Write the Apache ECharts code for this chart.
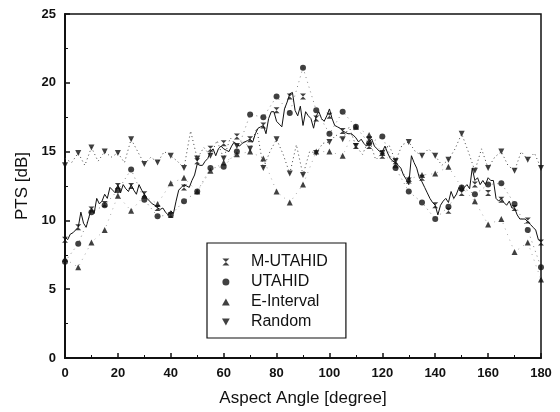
<!DOCTYPE html>
<html>
<head>
<meta charset="utf-8">
<script src="https://cdn.jsdelivr.net/npm/echarts@6/dist/echarts.min.js"></script>
<style>html,body{margin:0;padding:0;background:#fff;}#chart{width:560px;height:412px;}</style>
</head>
<body>
<div id="chart"></div>
<script>
// ---- Data ----
const lineAngles = [0,1,2,3,4,5,6,7,8,9,10,11,12,13,14,15,16,17,18,19,20,21,22,23,24,25,26,27,28,29,30,31,32,33,34,35,36,37,38,39,40,41,42,43,44,45,46,47,48,49,50,51,52,53,54,55,56,57,58,59,60,61,62,63,64,65,66,67,68,69,70,71,72,73,74,75,76,77,78,79,80,81,82,83,84,85,86,87,88,89,90,91,92,93,94,95,96,97,98,99,100,101,102,103,104,105,106,107,108,109,110,111,112,113,114,115,116,117,118,119,120,121,122,123,124,125,126,127,128,129,130,131,132,133,134,135,136,137,138,139,140,141,142,143,144,145,146,147,148,149,150,151,152,153,154,155,156,157,158,159,160,161,162,163,164,165,166,167,168,169,170,171,172,173,174,175,176,177,178,179,180];
const solidLine = [8.8,8.6,9.0,9.1,9.3,9.5,10.6,9.8,9.5,10.2,10.9,10.5,11.6,11.2,11.4,11.9,11.6,12.4,12.2,12.0,12.6,12.0,12.6,12.3,12.1,12.6,12.2,11.9,12.6,12.2,11.9,11.6,11.4,11.2,11.1,10.9,10.8,10.9,10.6,10.4,10.7,10.5,11.4,12.2,12.4,12.6,12.5,12.4,12.9,13.3,14.1,14.0,14.0,14.3,14.5,15.0,15.2,14.7,15.2,15.4,15.2,15.1,15.0,15.4,15.7,15.5,15.4,15.6,15.7,15.8,15.9,15.7,16.3,16.7,16.8,16.9,16.3,17.4,17.9,17.9,17.2,17.0,16.8,18.1,18.6,19.2,19.3,18.0,17.6,18.3,16.9,17.9,17.6,17.4,16.7,17.6,17.9,17.4,17.2,17.6,18.1,17.4,16.9,16.8,16.7,16.5,16.4,16.3,16.3,16.2,16.0,15.7,15.9,15.6,15.4,15.7,15.9,15.4,15.2,15.0,15.0,15.4,14.9,14.5,14.3,14.2,14.0,13.8,13.3,13.0,12.6,14.7,14.2,13.8,13.1,12.8,12.4,12.0,11.6,11.3,11.1,10.4,11.1,11.4,11.6,11.3,12.1,11.6,11.9,12.4,12.1,12.4,12.6,12.3,13.8,12.9,13.1,12.6,12.9,12.6,13.1,12.9,12.9,11.6,11.4,11.6,11.3,11.1,11.4,10.9,10.9,10.4,10.1,10.1,10.1,9.9,9.7,9.5,9.3,8.6,8.5];

const randLineAngles = [0,2.5,5,7.5,10,12.5,15,17.5,20,22.5,25,27.5,30,32.5,35,37.5,40,42.5,45,47.5,50,52.5,55,57.5,60,62.5,65,67.5,70,72.5,75,77.5,80,82.5,85,87.5,90,92.5,95,97.5,100,102.5,105,107.5,110,112.5,115,117.5,120,122.5,125,127.5,130,132.5,135,137.5,140,142.5,145,147.5,150,152.5,155,157.5,160,162.5,165,167.5,170,172.5,175,177.5,180];
const randLine = [14.5,14.2,14.9,14.0,15.3,14.3,15.0,14.6,14.9,14.2,15.9,15.0,14.1,14.6,14.2,15.0,14.7,14.3,13.8,16.5,14.5,15.3,14.7,15.8,14.5,16.0,15.4,15.8,15.2,16.7,13.8,15.0,15.9,14.8,13.4,15.5,13.3,15.0,14.9,15.6,15.7,16.2,15.9,16.8,15.4,14.8,15.9,14.4,14.9,15.5,14.3,15.5,15.7,15.0,14.7,15.2,14.7,14.0,14.4,15.2,16.3,15.0,13.6,15.2,13.8,14.6,15.0,14.0,13.6,15.0,14.4,14.9,13.8];

const markerAngles = [0,5,10,15,20,25,30,35,40,45,50,55,60,65,70,75,80,85,90,95,100,105,110,115,120,125,130,135,140,145,150,155,160,165,170,175,180];
const mUtahid   = [8.6,9.5,10.8,11.2,12.5,12.5,11.9,10.9,10.4,12.4,14.3,15.2,15.6,16.1,15.9,16.9,18.0,19.0,19.0,17.4,17.6,16.5,15.4,15.4,14.7,14.3,12.9,13.1,11.1,10.7,12.0,12.6,12.0,11.5,10.9,10.0,8.4];
const utahid    = [7.0,8.3,10.6,11.1,12.2,13.7,11.5,10.3,10.4,11.4,12.1,13.8,13.9,15.0,17.7,17.5,19.0,17.8,21.1,18.0,16.3,17.9,16.8,15.6,16.1,13.8,12.1,11.3,10.1,11.0,12.4,11.9,12.6,12.7,11.2,9.3,6.6];
const eInterval = [7.2,6.6,8.4,9.3,11.8,10.7,11.8,11.2,12.7,13.1,12.1,13.6,14.2,14.8,15.0,14.5,12.1,11.3,12.6,15.0,15.0,14.7,16.8,16.2,14.9,14.0,13.0,13.3,13.4,13.9,12.4,11.4,9.7,10.1,7.7,8.4,5.7];
const randomPts = [14.0,14.9,15.3,15.0,14.9,15.9,14.1,14.2,14.7,13.8,14.5,14.7,14.5,15.4,15.2,13.8,15.9,13.4,13.3,14.9,15.7,15.9,15.4,15.9,14.9,14.3,15.7,14.7,14.7,14.4,16.3,13.6,13.8,15.0,13.6,14.4,13.8];

const seriesNames = ['M-UTAHID','UTAHID','E-Interval','Random'];
const xTicks = {min:0, max:180, step:20};
const yTicks = {min:0, max:25, step:5};

// ---- Build ----
const pairs = (xs, ys) => xs.map((x, i) => [x, ys[i]]);
const FONT = '"Liberation Sans", Arial, sans-serif';
const hourglass = 'path://M0,0L10,0L0,10L10,10Z';
const triUp = 'path://M5,0L10,9L0,9Z';
const triDown = 'path://M0,0L10,0L5,9Z';

const chart = echarts.init(document.getElementById('chart'), null, {renderer:'canvas'});
chart.setOption({
  animation: false,
  backgroundColor: '#fff',
  grid: {left: 65, right: 19, top: 14, bottom: 50, show: true, borderColor: '#111', borderWidth: 1.5, backgroundColor: 'transparent'},
  xAxis: {
    type: 'value', min: xTicks.min, max: xTicks.max, interval: xTicks.step,
    name: 'Aspect Angle [degree]', nameLocation: 'middle', nameGap: 32,
    nameTextStyle: {fontFamily: FONT, fontSize: 17, color: '#111'},
    axisLine: {show: true, lineStyle: {color: '#111', width: 2}},
    axisTick: {show: true, inside: true, length: 5, lineStyle: {color: '#111', width: 1.5}},
    minorTick: {show: true, splitNumber: 2, length: 3, lineStyle: {color: '#111', width: 1}},
    axisLabel: {fontFamily: FONT, fontSize: 13, color: '#111', margin: 9, fontWeight: 'bold'},
    splitLine: {show: false}
  },
  yAxis: {
    type: 'value', min: yTicks.min, max: yTicks.max, interval: yTicks.step,
    name: 'PTS [dB]', nameLocation: 'middle', nameGap: 30, nameRotate: 90,
    nameTextStyle: {fontFamily: FONT, fontSize: 17, color: '#111'},
    axisLine: {show: true, lineStyle: {color: '#111', width: 2}},
    axisTick: {show: true, inside: true, length: 5, lineStyle: {color: '#111', width: 1.5}},
    minorTick: {show: true, splitNumber: 2, length: 3, lineStyle: {color: '#111', width: 1}},
    axisLabel: {fontFamily: FONT, fontSize: 13, color: '#111', margin: 9, fontWeight: 'bold'},
    splitLine: {show: false}
  },
  legend: {
    data: seriesNames,
    orient: 'vertical', left: 207, top: 243,
    padding: [9, 18, 6, 15],
    itemWidth: 40, itemHeight: 7, itemGap: 0,
    borderColor: '#111', borderWidth: 1.2, backgroundColor: '#fff',
    textStyle: {fontFamily: FONT, fontSize: 16, color: '#111', lineHeight: 20},
    inactiveColor: '#111', selectedMode: false
  },
  series: [
    {type: 'line', name: 'rand-line', data: pairs(randLineAngles, randLine), showSymbol: false, z: 1,
     lineStyle: {color: '#444', width: 1, type: [1, 3]}},
    {type: 'line', name: 'utahid-line', data: pairs(markerAngles, utahid), showSymbol: false, z: 1,
     lineStyle: {color: '#888', width: 1, type: [1, 4]}},
    {type: 'line', name: 'einterval-line', data: pairs(markerAngles, eInterval), showSymbol: false, z: 1,
     lineStyle: {color: '#aaa', width: 1, type: [1, 5]}},
    {type: 'line', name: 'solid-line', data: pairs(lineAngles, solidLine), showSymbol: false, z: 2,
     lineStyle: {color: '#111', width: 1}},
    {type: 'scatter', name: 'M-UTAHID', data: pairs(markerAngles, mUtahid), symbol: hourglass, symbolSize: 6, z: 5,
     itemStyle: {color: '#111'}},
    {type: 'scatter', name: 'UTAHID', data: pairs(markerAngles, utahid), symbol: 'circle', symbolSize: 6, z: 5,
     itemStyle: {color: '#111'}},
    {type: 'scatter', name: 'E-Interval', data: pairs(markerAngles, eInterval), symbol: triUp, symbolSize: 6, z: 5,
     itemStyle: {color: '#111'}},
    {type: 'scatter', name: 'Random', data: pairs(markerAngles, randomPts), symbol: triDown, symbolSize: 6, z: 5,
     itemStyle: {color: '#111'}}
  ]
});
</script>
</body>
</html>
